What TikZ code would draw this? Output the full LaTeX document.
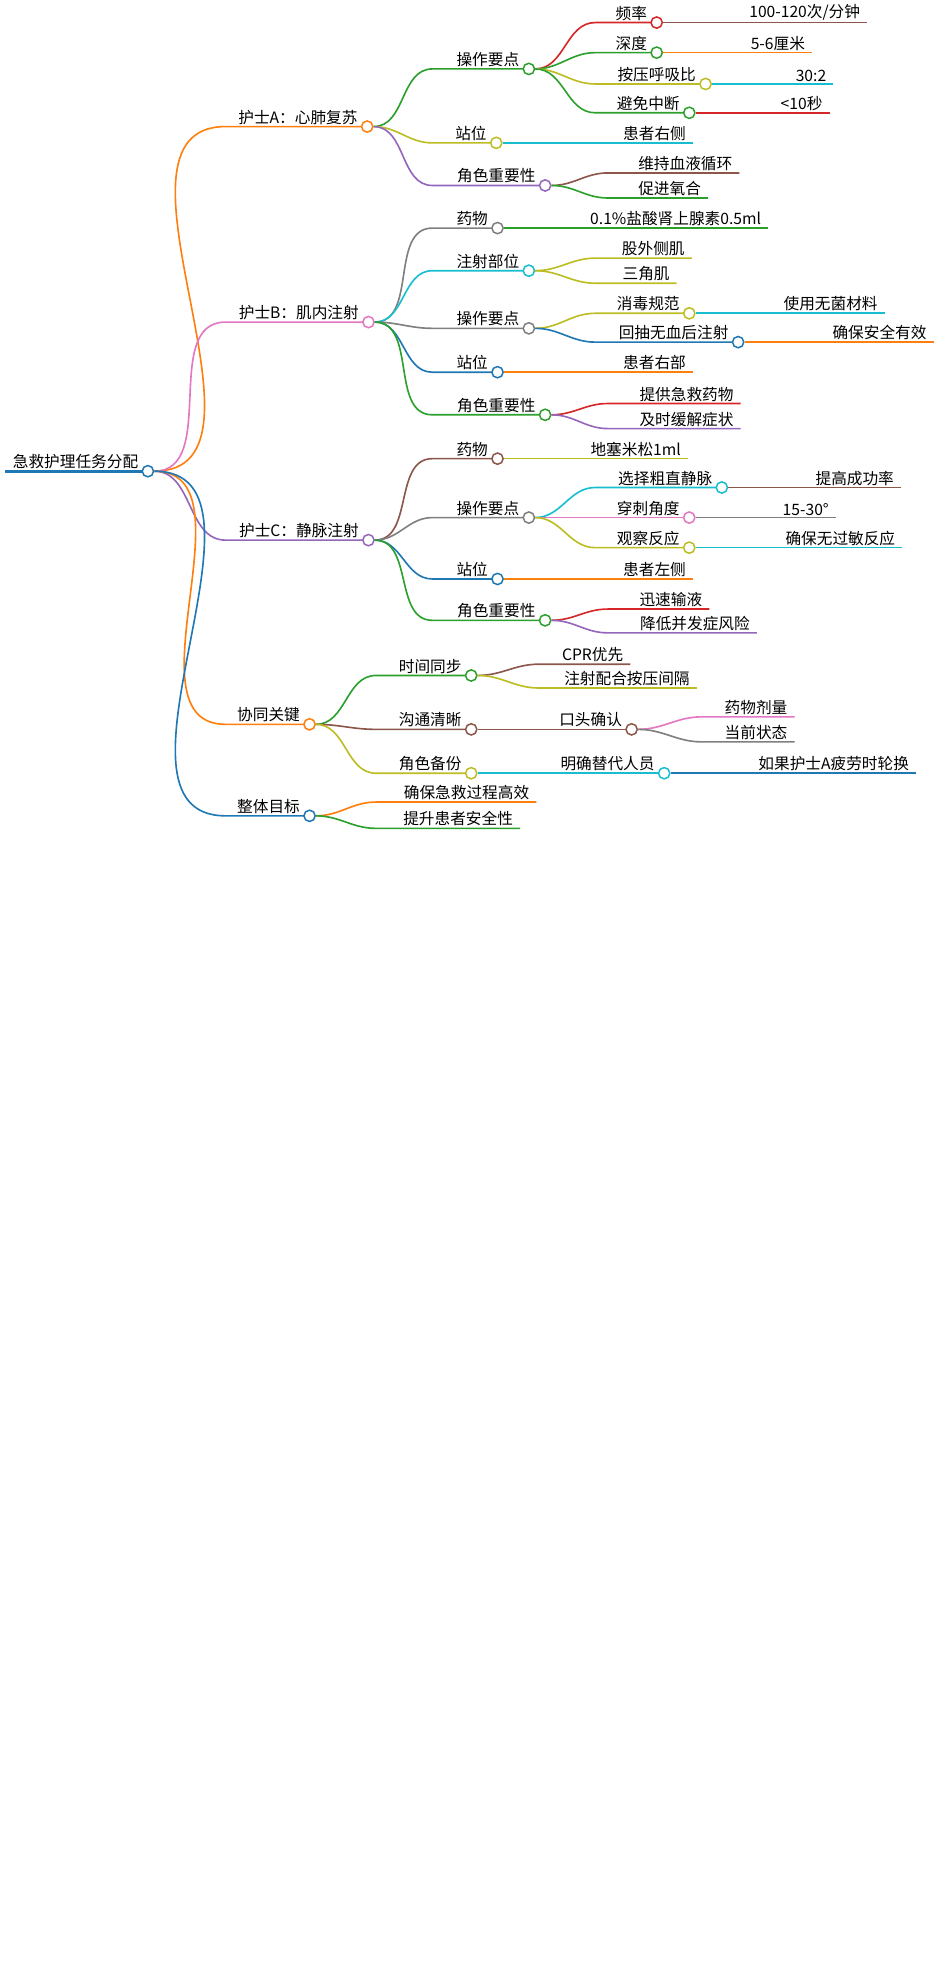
\documentclass[tikz,border=0pt]{standalone}
\usepackage{fontspec}
\setmainfont{Noto Sans CJK SC}
\usetikzlibrary{positioning}
\definecolor{corange}{HTML}{FF7F0E}
\definecolor{cpink}{HTML}{E377C2}
\definecolor{cpurple}{HTML}{9467BD}
\definecolor{cblue}{HTML}{1F77B4}
\definecolor{cgreen}{HTML}{2CA02C}
\definecolor{colive}{HTML}{BCBD22}
\definecolor{ccyan}{HTML}{17BECF}
\definecolor{cbrown}{HTML}{8C564B}
\definecolor{cgray}{HTML}{7F7F7F}
\definecolor{cred}{HTML}{D62728}
\tikzset{
  dot/.style={draw=#1, fill=white, circle, line width=1.2pt, inner sep=0pt, minimum size=9pt},
  link/.style={draw=#1, line width=1.3pt},
  lbl/.style={anchor=south east, inner sep=1.5pt, font=\fontsize{12.5}{14}\selectfont}
}
% #1 name, #2 parent, #3 bend end x, #4 end x, #5 y, #6 colour, #7 text
\newcommand\branchnode[7]{%
  \draw[link=#6] (#2.east) to[out=0,in=180] (#3,#5) -- (#4,#5);
  \node[dot=#6] (#1) at (#4,#5) {};
  \node[lbl] at (#4-6,#5) {#7};}
\newcommand\branchleaf[6]{%
  \draw[link=#5] (#1.east) to[out=0,in=180] (#2,#4) -- (#3,#4);
  \node[lbl] at (#3-4,#4) {#6};}

\begin{document}
\begin{tikzpicture}[x=1pt,y=-1pt]
  \useasboundingbox (0,0) rectangle (750,1568);
  % root
  \draw[link=cblue, line width=2.5pt] (4,376) -- (118,376);
  \node[dot=cblue] (root) at (118,376) {};
  \node[lbl] at (112,376) {急救护理任务分配};

  % nurse A
  \branchnode{nA}{root}{180}{293}{101}{corange}{护士A：心肺复苏}
  \branchnode{nAop}{nA}{345}{422}{55}{cgreen}{操作要点}
  \branchnode{nAf}{nAop}{475}{524}{18}{cred}{频率}
  \branchleaf{nAf}{545}{692}{18}{cbrown}{100-120次/分钟}
  \branchnode{nAd}{nAop}{475}{524}{42}{cgreen}{深度}
  \branchleaf{nAd}{545}{648}{42}{corange}{5-6厘米}
  \branchnode{nAr}{nAop}{475}{563}{67}{colive}{按压呼吸比}
  \branchleaf{nAr}{585}{665}{67}{ccyan}{30:2}
  \branchnode{nAi}{nAop}{475}{550}{90}{cgreen}{避免中断}
  \branchleaf{nAi}{570}{662}{90}{cred}{<10秒}
  \branchnode{nAst}{nA}{345}{396}{114}{colive}{站位}
  \branchleaf{nAst}{420}{553}{114}{ccyan}{患者右侧}
  \branchnode{nAro}{nA}{345}{435}{148}{cpurple}{角色重要性}
  \branchleaf{nAro}{485}{590}{138}{cbrown}{维持血液循环}
  \branchleaf{nAro}{485}{565}{158}{cgreen}{促进氧合}

  % nurse B
  \branchnode{nB}{root}{180}{294}{257}{cpink}{护士B：肌内注射}
  \branchnode{nBdr}{nB}{345}{397}{182}{cgray}{药物}
  \branchleaf{nBdr}{420}{613}{182}{cgreen}{0.1\%盐酸肾上腺素0.5ml}
  \branchnode{nBsi}{nB}{345}{422}{216}{ccyan}{注射部位}
  \branchleaf{nBsi}{475}{552}{206}{colive}{股外侧肌}
  \branchleaf{nBsi}{475}{540}{226}{colive}{三角肌}
  \branchnode{nBop}{nB}{345}{422}{262}{cgray}{操作要点}
  \branchnode{nBdi}{nBop}{475}{550}{250}{colive}{消毒规范}
  \branchleaf{nBdi}{570}{706}{250}{ccyan}{使用无菌材料}
  \branchnode{nBas}{nBop}{475}{589}{273}{cblue}{回抽无血后注射}
  \branchleaf{nBas}{610}{745}{273}{corange}{确保安全有效}
  \branchnode{nBst}{nB}{345}{397}{297}{cblue}{站位}
  \branchleaf{nBst}{420}{553}{297}{corange}{患者右部}
  \branchnode{nBro}{nB}{345}{435}{331}{cgreen}{角色重要性}
  \branchleaf{nBro}{485}{591}{322}{cred}{提供急救药物}
  \branchleaf{nBro}{485}{591}{342}{cpurple}{及时缓解症状}

  % nurse C
  \branchnode{nC}{root}{180}{294}{431}{cpurple}{护士C：静脉注射}
  \branchnode{nCdr}{nC}{345}{397}{366}{cbrown}{药物}
  \branchleaf{nCdr}{420}{549}{366}{colive}{地塞米松1ml}
  \branchnode{nCop}{nC}{345}{422}{413}{cgray}{操作要点}
  \branchnode{nCve}{nCop}{475}{576}{389}{ccyan}{选择粗直静脉}
  \branchleaf{nCve}{600}{719}{389}{cbrown}{提高成功率}
  \branchnode{nCan}{nCop}{475}{550}{413}{cpink}{穿刺角度}
  \branchleaf{nCan}{570}{667}{413}{cgray}{15-30°}
  \branchnode{nCob}{nCop}{475}{550}{437}{colive}{观察反应}
  \branchleaf{nCob}{570}{720}{437}{ccyan}{确保无过敏反应}
  \branchnode{nCst}{nC}{345}{397}{462}{cblue}{站位}
  \branchleaf{nCst}{420}{553}{462}{corange}{患者左侧}
  \branchnode{nCro}{nC}{345}{435}{495}{cgreen}{角色重要性}
  \branchleaf{nCro}{485}{566}{486}{cred}{迅速输液}
  \branchleaf{nCro}{485}{604}{505}{cpurple}{降低并发症风险}

  % cooperation
  \branchnode{nK}{root}{180}{247}{578}{corange}{协同关键}
  \branchnode{nKt}{nK}{300}{376}{539}{cgreen}{时间同步}
  \branchleaf{nKt}{430}{503}{530}{cbrown}{CPR优先}
  \branchleaf{nKt}{430}{556}{549}{colive}{注射配合按压间隔}
  \branchnode{nKc}{nK}{300}{376}{582}{cbrown}{沟通清晰}
  \branchnode{nKv}{nKc}{400}{504}{582}{cbrown}{口头确认}
  \branchleaf{nKv}{560}{634}{572}{cpink}{药物剂量}
  \branchleaf{nKv}{560}{634}{592}{cgray}{当前状态}
  \branchnode{nKb}{nK}{300}{376}{617}{colive}{角色备份}
  \branchnode{nKr}{nKb}{400}{530}{617}{ccyan}{明确替代人员}
  \branchleaf{nKr}{555}{731}{617}{cblue}{如果护士A疲劳时轮换}

  % overall goal
  \branchnode{nG}{root}{180}{247}{651}{cblue}{整体目标}
  \branchleaf{nG}{300}{428}{640}{corange}{确保急救过程高效}
  \branchleaf{nG}{300}{415}{661}{cgreen}{提升患者安全性}
\end{tikzpicture}
\end{document}
